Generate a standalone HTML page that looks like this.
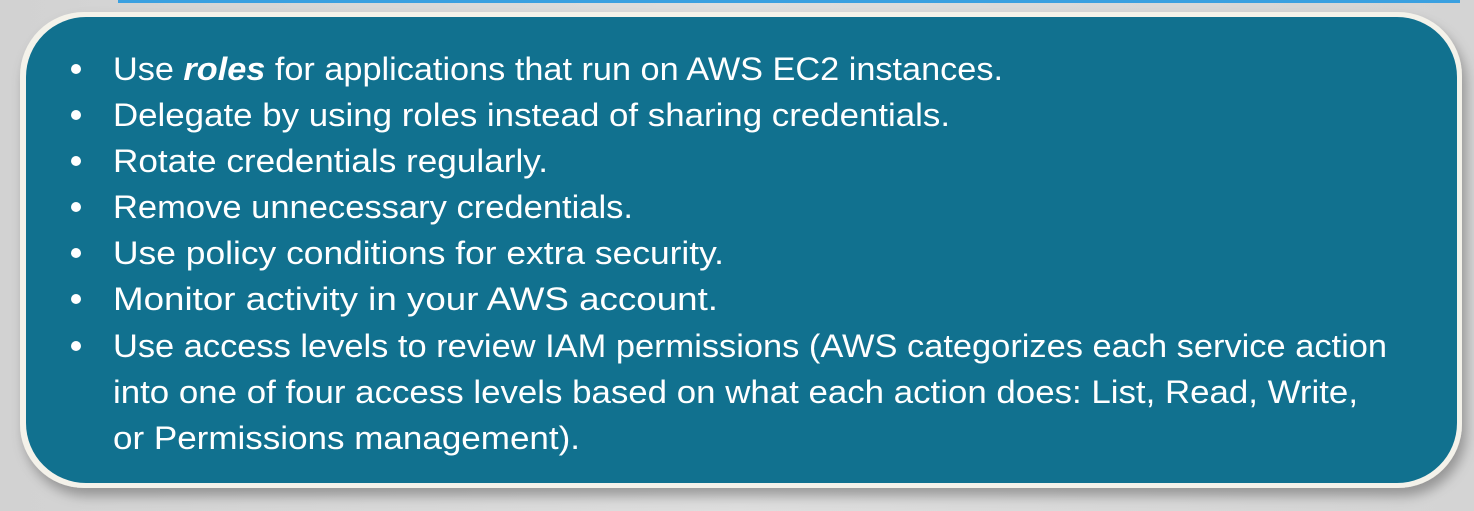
<!DOCTYPE html>
<html><head><meta charset="utf-8"><style>
html,body{margin:0;padding:0;background:#d9d9d9;}
svg{display:block}
</style></head><body>
<svg width="1474" height="511" viewBox="0 0 1474 511" xmlns="http://www.w3.org/2000/svg">
<defs>
<linearGradient id="bg" x1="0" y1="0" x2="1" y2="0">
<stop offset="0" stop-color="#d2d2d2"/><stop offset="0.5" stop-color="#dedede"/><stop offset="1" stop-color="#d4d4d4"/>
</linearGradient>
<filter id="sh" x="-5%" y="-10%" width="110%" height="125%"><feDropShadow dx="4" dy="8" stdDeviation="6" flood-color="#000" flood-opacity="0.3"/></filter>
</defs>
<rect width="1474" height="511" fill="url(#bg)"/>
<rect x="118" y="0" width="1342" height="3" fill="#3aa0e0"/>
<rect x="20" y="12" width="1442" height="476" rx="64" fill="#f4f2ea" filter="url(#sh)"/>
<rect x="26" y="17" width="1431" height="466" rx="60" fill="#11718f"/>
<g fill="#ffffff">
<circle cx="76" cy="69" r="5"/><circle cx="76" cy="115" r="5"/><circle cx="76" cy="161" r="5"/><circle cx="76" cy="207" r="5"/><circle cx="76" cy="253" r="5"/><circle cx="76" cy="299" r="5"/><circle cx="76" cy="346" r="5"/>
</g>
<g fill="#ffffff" font-family="Liberation Sans, sans-serif" font-size="32">
<text x="113" y="80" textLength="890" lengthAdjust="spacingAndGlyphs">Use <tspan font-weight="bold" font-style="italic">roles</tspan> for applications that run on AWS EC2 instances.</text>
<text x="113" y="126" textLength="837" lengthAdjust="spacingAndGlyphs">Delegate by using roles instead of sharing credentials.</text>
<text x="113" y="172" textLength="435" lengthAdjust="spacingAndGlyphs">Rotate credentials regularly.</text>
<text x="113" y="218" textLength="520" lengthAdjust="spacingAndGlyphs">Remove unnecessary credentials.</text>
<text x="113" y="264" textLength="611" lengthAdjust="spacingAndGlyphs">Use policy conditions for extra security.</text>
<text x="113" y="310" textLength="605" lengthAdjust="spacingAndGlyphs">Monitor activity in your AWS account.</text>
<text x="113" y="357" textLength="1274" lengthAdjust="spacingAndGlyphs">Use access levels to review IAM permissions (AWS categorizes each service action</text>
<text x="113" y="403" textLength="1245" lengthAdjust="spacingAndGlyphs">into one of four access levels based on what each action does: List, Read, Write,</text>
<text x="113" y="449" textLength="467" lengthAdjust="spacingAndGlyphs">or Permissions management).</text>
</g>
</svg>
</body></html>
